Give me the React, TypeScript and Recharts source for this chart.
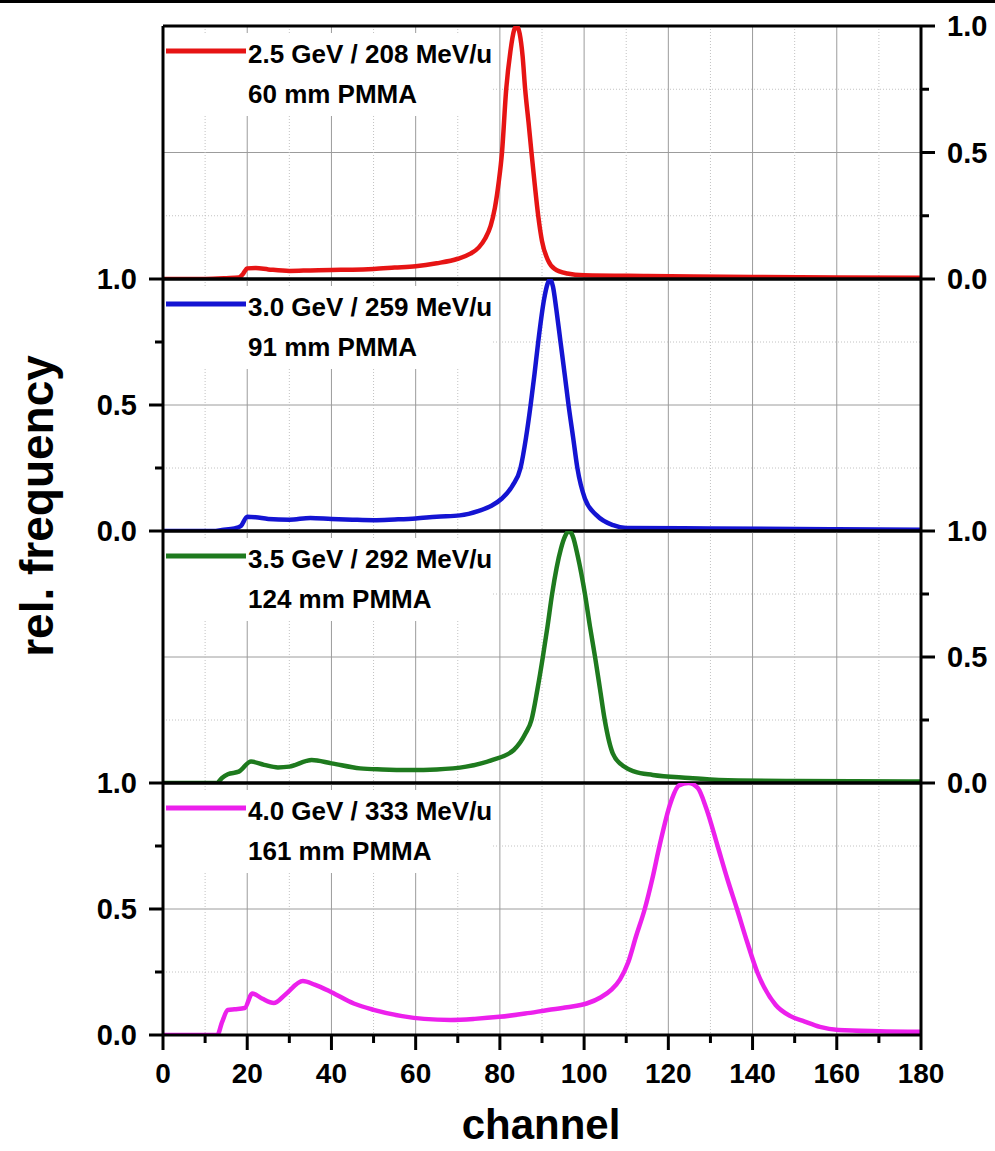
import { CartesianGrid, Line, LineChart, ReferenceLine, XAxis, YAxis } from "recharts";

// x axis: ticks every 10 channels, labels on every 20
const channelTicks = [0, 10, 20, 30, 40, 50, 60, 70, 80, 90, 100, 110, 120, 130, 140, 150, 160, 170, 180];
const majorChannels = [20, 40, 60, 80, 100, 120, 140, 160];
const minorChannels = [10, 30, 50, 70, 90, 110, 130, 150, 170];
const freqTicks = [0, 0.25, 0.5, 0.75, 1];

// 2.5 GeV / 208 MeV/u
const redChannel = [0, 10, 15, 18, 19, 20, 22, 25, 30, 35, 40, 45, 50, 55, 60, 65, 70, 73, 75, 76.5, 77.8, 78.8, 79.7, 80.5, 81.5, 82.5, 83.4, 84, 84.7, 85.4, 86, 86.8, 87.5, 88.3, 89.1, 90, 91.4, 93, 96, 100, 115, 140, 160, 180];
const redValue = [0, 0, 0.003, 0.006, 0.02, 0.042, 0.043, 0.038, 0.032, 0.034, 0.036, 0.037, 0.04, 0.045, 0.05, 0.062, 0.08, 0.1, 0.125, 0.16, 0.21, 0.28, 0.38, 0.5, 0.75, 0.9, 0.985, 1.0, 0.97, 0.88, 0.75, 0.62, 0.5, 0.37, 0.25, 0.15, 0.075, 0.04, 0.022, 0.015, 0.012, 0.008, 0.006, 0.005];

// 3.0 GeV / 259 MeV/u
const blueChannel = [0, 12, 14, 17, 18.5, 20, 22, 25, 30, 35, 40, 45, 50, 55, 60, 65, 70.5, 75, 78, 80.4, 83, 84.9, 86.2, 87.3, 88.2, 89.1, 90.5, 91.3, 91.9, 92.6, 93.4, 94.4, 95.4, 96.3, 97.4, 98.4, 100.2, 103, 106.9, 110, 130, 160, 180];
const blueValue = [0, 0, 0.004, 0.01, 0.02, 0.057, 0.055, 0.048, 0.045, 0.052, 0.048, 0.045, 0.043, 0.046, 0.05, 0.057, 0.062, 0.08, 0.1, 0.128, 0.18, 0.25, 0.37, 0.5, 0.62, 0.75, 0.92, 0.98, 1.0, 0.97, 0.88, 0.75, 0.62, 0.5, 0.37, 0.25, 0.128, 0.062, 0.023, 0.012, 0.01, 0.007, 0.005];

// 3.5 GeV / 292 MeV/u
const greenChannel = [0, 12.8, 14, 15.4, 18, 20.9, 24, 27.3, 30, 35.3, 40, 46.8, 52, 58.7, 65, 72, 78.1, 83.3, 86.1, 87.5, 88.9, 90.2, 91.3, 92.4, 94.5, 95.5, 96.4, 97.3, 98.5, 100.2, 101.4, 102.6, 103.8, 104.9, 106.8, 109.5, 112, 116.3, 125, 132, 150, 180];
const greenValue = [0, 0, 0.02, 0.035, 0.045, 0.085, 0.072, 0.062, 0.065, 0.091, 0.078, 0.058, 0.054, 0.052, 0.054, 0.065, 0.091, 0.131, 0.197, 0.25, 0.37, 0.5, 0.62, 0.75, 0.93, 0.98, 1.0, 0.98, 0.9, 0.75, 0.62, 0.5, 0.37, 0.25, 0.118, 0.065, 0.045, 0.032, 0.02, 0.012, 0.008, 0.006];

// 4.0 GeV / 333 MeV/u
const magentaChannel = [0, 12.9, 14, 15.4, 17, 19.4, 21.2, 23.5, 26.3, 29, 33.2, 36, 40, 45.3, 50, 56.8, 62, 68.3, 74, 79.9, 86, 91.4, 96, 100.6, 104, 106.5, 108.5, 110.5, 112.3, 114.4, 116.2, 117.9, 120.5, 122.5, 124.8, 127, 129, 131.7, 134, 136.3, 138.7, 141.1, 145.5, 149, 152.4, 156, 160.4, 170, 180];
const magentaValue = [0, 0, 0.05, 0.099, 0.102, 0.107, 0.165, 0.145, 0.127, 0.16, 0.214, 0.2, 0.17, 0.125, 0.1, 0.075, 0.064, 0.06, 0.064, 0.072, 0.085, 0.099, 0.11, 0.125, 0.15, 0.18, 0.22, 0.29, 0.39, 0.5, 0.62, 0.75, 0.92, 0.99, 1.0, 0.98, 0.9, 0.75, 0.62, 0.5, 0.37, 0.25, 0.119, 0.075, 0.053, 0.032, 0.02, 0.015, 0.013];

const FONT = "'Liberation Sans', Arial, sans-serif";
const PLOT_LEFT = 163;
const PLOT_RIGHT = 921;
const PAD = 20;

const toPoints = (channel: number[], value: number[]) => channel.map((c, i) => ({ channel: c, value: value[i] }));

type PanelDef = {
  top: number;
  bottom: number;
  color: string;
  energy: string;
  material: string;
  data: { channel: number; value: number }[];
  axisSide: "left" | "right";
  last?: boolean;
};

const panels: PanelDef[] = [
  { top: 26, bottom: 279, color: "#e61414", energy: "2.5 GeV / 208 MeV/u", material: "60 mm PMMA", data: toPoints(redChannel, redValue), axisSide: "right" },
  { top: 279, bottom: 531, color: "#1414d2", energy: "3.0 GeV / 259 MeV/u", material: "91 mm PMMA", data: toPoints(blueChannel, blueValue), axisSide: "left" },
  { top: 531, bottom: 783, color: "#1e7a1e", energy: "3.5 GeV / 292 MeV/u", material: "124 mm PMMA", data: toPoints(greenChannel, greenValue), axisSide: "right" },
  { top: 783, bottom: 1035, color: "#ec20ec", energy: "4.0 GeV / 333 MeV/u", material: "161 mm PMMA", data: toPoints(magentaChannel, magentaValue), axisSide: "left", last: true },
];

const isMajorFreq = (v: number) => v === 0 || v === 0.5 || v === 1;

function FreqTick(props: any) {
  const { x, y, payload, side, show } = props;
  if (!show) return <g />;
  const dir = side === "left" ? -1 : 1;
  const major = isMajorFreq(payload.value);
  return (
    <g>
      <line x1={x} x2={x + dir * (major ? 14 : 8)} y1={y} y2={y} stroke="#000" strokeWidth={3} />
      {major && (
        <text
          x={x + dir * 26}
          y={y}
          dy="0.36em"
          textAnchor={side === "left" ? "end" : "start"}
          fontFamily={FONT}
          fontWeight="bold"
          fontSize={29}
          fill="#000"
        >
          {payload.value.toFixed(1)}
        </text>
      )}
    </g>
  );
}

function ChannelTick(props: any) {
  const { x, y, payload, show } = props;
  if (!show) return <g />;
  const major = payload.value % 20 === 0;
  return (
    <g>
      <line x1={x} x2={x} y1={y} y2={y + (major ? 15 : 8)} stroke="#000" strokeWidth={3} />
      {major && (
        <text x={x} y={y + 48} textAnchor="middle" fontFamily={FONT} fontWeight="bold" fontSize={28} fill="#000">
          {payload.value}
        </text>
      )}
    </g>
  );
}

function Panel({ def }: { def: PanelDef }) {
  const plotH = def.bottom - def.top;
  const xAxisH = def.last ? 60 : 1;
  const height = PAD + plotH + xAxisH + (def.last ? 0 : PAD);
  return (
    <div style={{ position: "absolute", left: 0, top: def.top - PAD }}>
      <LineChart
        width={995}
        height={height}
        data={def.data}
        margin={{ top: PAD, right: 0, bottom: def.last ? 0 : PAD, left: 0 }}
      >
        <CartesianGrid horizontalValues={[0.5]} verticalValues={majorChannels} stroke="#9c9c9c" strokeWidth={1} />
        <CartesianGrid
          horizontalValues={[0.25, 0.75]}
          verticalValues={minorChannels}
          stroke="#c2c2c2"
          strokeWidth={1}
          strokeDasharray="1 2"
        />
        <XAxis
          type="number"
          dataKey="channel"
          domain={[0, 180]}
          ticks={channelTicks}
          interval={0}
          height={xAxisH}
          tickSize={0}
          tickMargin={0}
          tickLine={false}
          tick={<ChannelTick show={!!def.last} />}
          axisLine={{ stroke: "#000", strokeWidth: 3 }}
        />
        <YAxis
          domain={[0, 1]}
          ticks={freqTicks}
          interval={0}
          width={PLOT_LEFT}
          tickSize={0}
          tickMargin={0}
          tickLine={false}
          tick={<FreqTick side="left" show={def.axisSide === "left"} />}
          axisLine={{ stroke: "#000", strokeWidth: 3 }}
          allowDataOverflow
        />
        <YAxis
          yAxisId="right"
          orientation="right"
          domain={[0, 1]}
          ticks={freqTicks}
          interval={0}
          width={995 - PLOT_RIGHT}
          tickSize={0}
          tickMargin={0}
          tickLine={false}
          tick={<FreqTick side="right" show={def.axisSide === "right"} />}
          axisLine={{ stroke: "#000", strokeWidth: 3 }}
          allowDataOverflow
        />
        <ReferenceLine y={1} stroke="#000" strokeWidth={3} />
        <Line
          type="monotone"
          dataKey="value"
          stroke={def.color}
          strokeWidth={4.5}
          strokeLinejoin="round"
          dot={false}
          activeDot={false}
          isAnimationActive={false}
        />
      </LineChart>
    </div>
  );
}

function Legends() {
  return (
    <svg width={995} height={1151} style={{ position: "absolute", left: 0, top: 0, pointerEvents: "none" }}>
      {panels.map((p) => (
        <g key={p.energy}>
          <rect x={165} y={p.top + 7} width={327} height={83} fill="#fff" />
          <line x1={166} x2={246} y1={p.top + 25} y2={p.top + 25} stroke={p.color} strokeWidth={5} />
          <text x={248} y={p.top + 37} fontFamily={FONT} fontWeight="bold" fontSize={26} fill="#000">
            {p.energy}
          </text>
          <text x={248} y={p.top + 77} fontFamily={FONT} fontWeight="bold" fontSize={26} fill="#000">
            {p.material}
          </text>
        </g>
      ))}
      <text
        transform="translate(53,506) rotate(-90)"
        textAnchor="middle"
        fontFamily={FONT}
        fontWeight="bold"
        fontSize={46}
        fill="#000"
      >
        rel. frequency
      </text>
      <text x={541} y={1139} textAnchor="middle" fontFamily={FONT} fontWeight="bold" fontSize={42} fill="#000">
        channel
      </text>
    </svg>
  );
}

export default function App() {
  return (
    <div style={{ position: "absolute", left: 0, top: 0, width: 995, height: 1151, background: "#fff" }}>
      <div style={{ position: "absolute", left: 0, top: 0, width: 995, height: 3, background: "#000" }} />
      {panels.map((p) => (
        <Panel key={p.energy} def={p} />
      ))}
      <Legends />
    </div>
  );
}
